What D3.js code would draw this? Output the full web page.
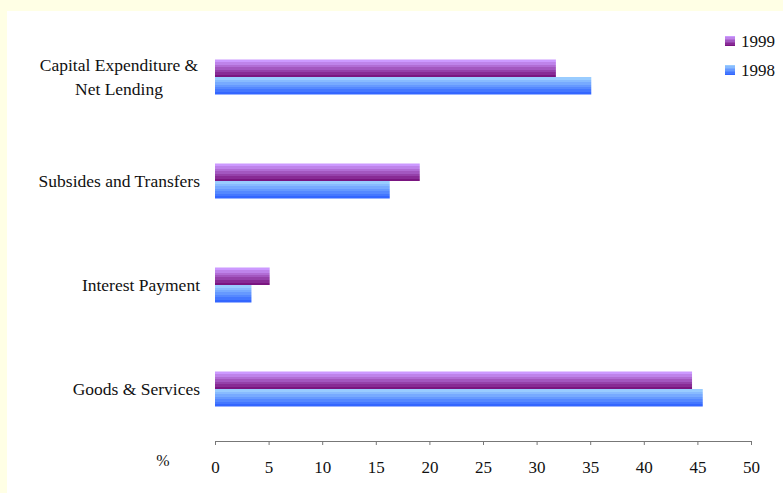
<!DOCTYPE html>
<html>
<head>
<meta charset="utf-8">
<script src="https://cdn.jsdelivr.net/npm/d3@7"></script>
<style>
  html, body { margin: 0; padding: 0; background: #FFFFE5; }
  svg { display: block; }
</style>
</head>
<body>
<div id="chart"></div>
<script>
// Categories, top to bottom
const categories = [
  ['Capital Expenditure &', 'Net Lending'],
  ['Subsides and Transfers'],
  ['Interest Payment'],
  ['Goods & Services']
];
const series = ['1999', '1998'];
const values1999 = [31.8, 19.1, 5.1, 44.5];
const values1998 = [35.1, 16.3, 3.4, 45.5];
const xTicks = [0, 5, 10, 15, 20, 25, 30, 35, 40, 45, 50];

const serif = '"Liberation Serif", "Times New Roman", serif';
const width = 783, height = 493;
const margin = { top: 25, right: 32, bottom: 52, left: 215 };

const svg = d3.select('#chart')
  .append('svg')
    .attr('width', width)
    .attr('height', height);

// white panel on the pale yellow page
svg.append('rect')
  .attr('x', 7).attr('y', 11)
  .attr('width', width - 7).attr('height', height - 11)
  .attr('fill', '#fff');

// gradients: light at top, dark at bottom
const defs = svg.append('defs');
const grads = {
  '1999': ['#CC99FF', '#7A1580'],
  '1998': ['#99CCFF', '#3366FF']
};
Object.entries(grads).forEach(([k, [c0, c1]]) => {
  const g = defs.append('linearGradient')
    .attr('id', 'g' + k)
    .attr('x1', 0).attr('y1', 0).attr('x2', 0).attr('y2', 1);
  // stepped bands like the original
  const steps = 7;
  const interp = d3.interpolateRgb(c0, c1);
  for (let i = 0; i < steps; i++) {
    g.append('stop').attr('offset', i / steps).attr('stop-color', interp(i / (steps - 1)));
    g.append('stop').attr('offset', (i + 1) / steps).attr('stop-color', interp(i / (steps - 1)));
  }
});

const x = d3.scaleLinear()
  .domain([0, 50])
  .range([margin.left, width - margin.right]);

const y = d3.scaleBand()
  .domain(d3.range(categories.length))
  .range([margin.top, height - margin.bottom]);

const inner = d3.scaleBand()
  .domain(series)
  .range([0, 35]);

const rows = categories.map((c, i) => ({ i, v: { '1999': values1999[i], '1998': values1998[i] } }));

// bars
const groups = svg.selectAll('g.cat')
  .data(rows)
  .join('g')
    .attr('class', 'cat')
    .attr('transform', d => `translate(0,${y(d.i) + y.bandwidth() / 2 - 17.5})`);

groups.selectAll('rect')
  .data(d => series.map(s => ({ s, v: d.v[s] })))
  .join('rect')
    .attr('x', x(0))
    .attr('y', d => inner(d.s))
    .attr('width', d => x(d.v) - x(0))
    .attr('height', inner.bandwidth())
    .attr('fill', d => `url(#g${d.s})`);

// category labels
const labels = svg.selectAll('text.cat')
  .data(rows)
  .join('text')
    .attr('class', 'cat')
    .style('font-family', serif)
    .style('font-size', '17.5px')
    .attr('fill', '#111')
    .attr('x', d => categories[d.i].length > 1 ? 119 : 200)
    .attr('text-anchor', d => categories[d.i].length > 1 ? 'middle' : 'end')
    .attr('y', d => y(d.i) + y.bandwidth() / 2);

labels.selectAll('tspan')
  .data(d => categories[d.i].map((t, k, a) => ({ t, k, n: a.length })))
  .join('tspan')
    .attr('x', function() { return this.parentNode.getAttribute('x'); })
    .attr('dy', d => d.k === 0 ? (6 - (d.n - 1) * 12) + 'px' : '24px')
    .text(d => d.t);

// x axis
const axis = svg.append('g')
  .attr('transform', `translate(0,${height - margin.bottom})`)
  .call(d3.axisBottom(x).tickValues(xTicks).tickSize(4).tickSizeOuter(4).tickPadding(16));
axis.select('.domain').attr('stroke', '#777');
axis.selectAll('.tick line').attr('stroke', '#777');
axis.selectAll('.tick text')
  .style('font-family', serif)
  .style('font-size', '17px')
  .attr('fill', '#111');

svg.append('text')
  .attr('x', 163).attr('y', 466)
  .attr('text-anchor', 'middle')
  .style('font-family', serif)
  .style('font-size', '16px')
  .attr('fill', '#111')
  .text('%');

// legend
const legend = svg.selectAll('g.legend')
  .data(series)
  .join('g')
    .attr('class', 'legend')
    .attr('transform', (d, i) => `translate(725,${36 + i * 29})`);
legend.append('rect')
  .attr('width', 10).attr('height', 10)
  .attr('fill', d => `url(#g${d})`);
legend.append('text')
  .attr('x', 16).attr('y', 11)
  .style('font-family', serif)
  .style('font-size', '17px')
  .attr('fill', '#111')
  .text(d => d);
</script>
</body>
</html>
